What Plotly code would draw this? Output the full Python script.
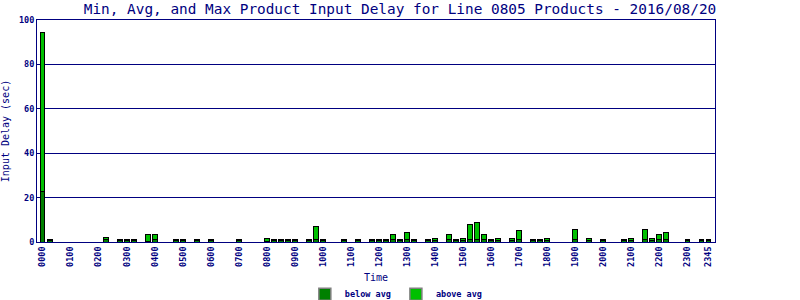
import plotly.graph_objects as go

# 15-minute time slots 0000 .. 2345
slot_labels = [f"{h:02d}{m:02d}" for h in range(24) for m in (0, 15, 30, 45)]

# max delay per slot (sec), None where no products
max_delay = {
    0: 94.4, 1: 1.0, 9: 2.0, 11: 1.0, 12: 1.0, 13: 1.0, 15: 3.2, 16: 3.2,
    19: 1.0, 20: 1.0, 22: 1.0, 24: 1.0, 28: 1.0, 32: 1.8, 33: 1.0, 34: 1.0,
    35: 1.0, 36: 1.0, 38: 1.0, 39: 7.2, 40: 1.0, 43: 1.0, 45: 1.0, 47: 1.0,
    48: 1.0, 49: 1.0, 50: 3.2, 51: 1.0, 52: 4.1, 53: 1.0, 55: 1.0, 56: 1.8,
    58: 3.2, 59: 1.0, 60: 1.8, 61: 8.1, 62: 9.0, 63: 3.2, 64: 1.0, 65: 1.8,
    67: 1.8, 68: 5.0, 70: 1.0, 71: 1.0, 72: 1.8, 76: 5.8, 78: 1.8, 80: 1.0,
    83: 1.0, 84: 1.8, 86: 5.8, 87: 1.8, 88: 3.2, 89: 4.1, 92: 1.0, 94: 1.0,
    95: 1.0,
}
# average delay per slot (sec)
avg_delay = {
    0: 22.8, 1: 0.5, 9: 1.0, 11: 0.5, 12: 0.5, 13: 0.5, 15: 0.2, 16: 1.0,
    19: 0.5, 20: 0.5, 22: 0.5, 24: 0.5, 28: 0.5, 32: 0.3, 33: 0.5, 34: 0.5,
    35: 0.5, 36: 0.5, 38: 0.5, 39: 1.0, 40: 0.5, 43: 0.5, 45: 0.5, 47: 0.5,
    48: 0.5, 49: 0.5, 50: 1.0, 51: 0.5, 52: 1.0, 53: 0.5, 55: 0.5, 56: 0.8,
    58: 1.0, 59: 0.5, 60: 0.8, 61: 1.0, 62: 1.0, 63: 1.0, 64: 0.5, 65: 0.8,
    67: 0.8, 68: 1.0, 70: 0.5, 71: 0.5, 72: 0.8, 76: 1.0, 78: 0.8, 80: 0.5,
    83: 0.5, 84: 0.8, 86: 1.0, 87: 0.8, 88: 1.0, 89: 1.0, 92: 0.5, 94: 0.5,
    95: 0.5,
}

x_idx = list(range(len(slot_labels)))
below_avg = [avg_delay.get(i) for i in x_idx]
above_avg = [(max_delay[i] - avg_delay[i]) if i in max_delay else None for i in x_idx]

tick_vals = list(range(0, 96, 4)) + [95]
tick_text = [slot_labels[i] for i in tick_vals]

NAVY = "#000080"
DARK = "#008000"
LIGHT = "#00c000"
FONT = "DejaVu Sans Mono"

fig = go.Figure()
fig.add_trace(go.Bar(
    x=x_idx, y=below_avg, name="below avg", width=0.66, showlegend=False,
    marker=dict(color=DARK, line=dict(color="black", width=1)),
))
fig.add_trace(go.Bar(
    x=x_idx, y=above_avg, name="above avg", width=0.66, showlegend=False,
    marker=dict(color=LIGHT, line=dict(color="black", width=1)),
))
# legend entries (grey-outlined swatches as in the original)
for nm, col in (("below avg", DARK), ("above avg", LIGHT)):
    fig.add_trace(go.Bar(
        x=[None], y=[None], name=nm,
        marker=dict(color=col, line=dict(color="#808080", width=1.5)),
    ))

fig.update_layout(
    barmode="stack",
    width=800, height=300,
    margin=dict(l=37, r=85, t=20, b=58, autoexpand=False),
    paper_bgcolor="white", plot_bgcolor="white",
    font=dict(family=FONT, color=NAVY, size=8),
    title=dict(
        text="Min, Avg, and Max Product Input Delay for Line 0805 Products - 2016/08/20",
        x=0.5, xanchor="center", y=0.97, yanchor="middle",
        font=dict(family=FONT, size=14.4, color=NAVY),
    ),
    showlegend=True,
    legend=dict(
        orientation="h", x=0.53, xanchor="center", y=-0.235, yanchor="middle",
        font=dict(family=FONT, size=8.5, color=NAVY, weight="bold"),
        traceorder="normal", itemwidth=30, tracegroupgap=0,
    ),
    xaxis=dict(
        range=[-0.81, 95.95], tickmode="array", tickvals=tick_vals, ticktext=tick_text,
        tickangle=-90, showgrid=False, zeroline=False, automargin=False,
        showline=True, linecolor=NAVY, linewidth=1, mirror=True,
        tickfont=dict(family=FONT, size=8.5, color=NAVY, weight="bold"),
        title=dict(text="Time", font=dict(family=FONT, size=10, color=NAVY), standoff=8),
    ),
    yaxis=dict(
        range=[0, 100], dtick=20, showgrid=True, gridcolor=NAVY, gridwidth=1,
        zeroline=False, showline=True, linecolor=NAVY, linewidth=1, mirror=True,
        automargin=False,
        tickfont=dict(family=FONT, size=8.5, color=NAVY, weight="bold"),
        title=dict(text="Input Delay (sec)", font=dict(family=FONT, size=10, color=NAVY), standoff=8),
    ),
)

fig.write_html("out.html")
